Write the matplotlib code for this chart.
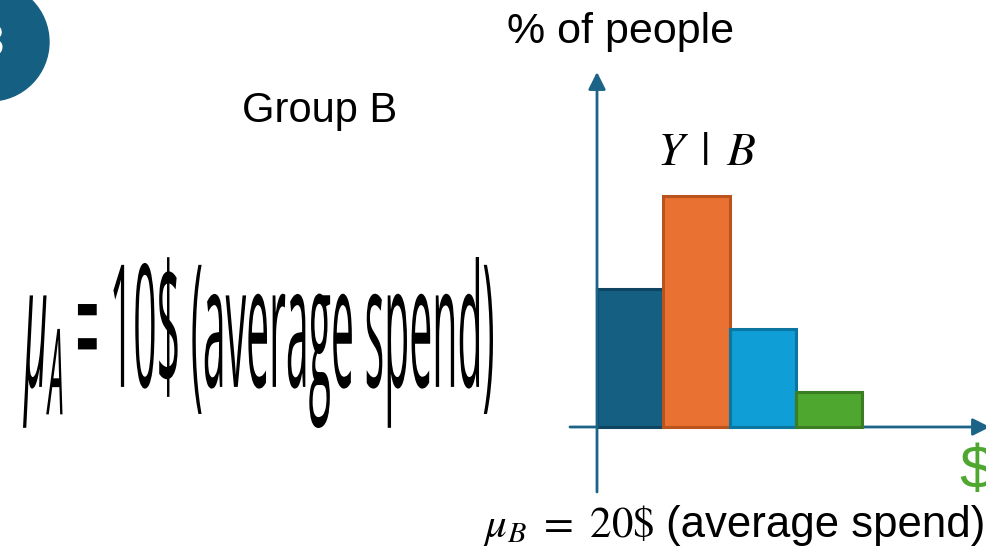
import matplotlib
matplotlib.use("Agg")
import matplotlib.pyplot as plt
from matplotlib.patches import Circle
from matplotlib.patheffects import AbstractPathEffect
from matplotlib.transforms import Affine2D

# spend distribution of group B (share of people per spend bin)
spend_bins = ["0-10$", "10-20$", "20-30$", "30-40$"]
pct_people = [27.5, 46.0, 19.5, 7.0]
bar_colors = ["#156082", "#e97132", "#0f9ed5", "#4ea72e"]
edge_colors = ["#0e4560", "#b9541f", "#0b76a2", "#3a7d22"]

mean_a = 10
mean_b = 20

W, H = 986, 551
AXIS = "#1b6487"
SANS = ["Liberation Sans", "DejaVu Sans"]

plt.rcParams["mathtext.it"] = "Open Sans:italic"
plt.rcParams["mathtext.rm"] = "Open Sans"


class FitBox(AbstractPathEffect):
    """Squeeze a text's outline into a given pixel box (tall, condensed look)."""

    def __init__(self, box):
        super().__init__()
        self.box = box

    def draw_path(self, renderer, gc, tpath, affine, rgbFace=None):
        ext = affine.transform_path(tpath).get_extents()
        x0, y0, x1, y1 = self.box
        fit = (Affine2D().translate(-ext.x0, -ext.y0)
               .scale((x1 - x0) / ext.width, (y1 - y0) / ext.height)
               .translate(x0, y0))
        renderer.draw_path(gc, tpath, affine + fit, rgbFace)


def fxy(x, y):
    return x / W, 1 - y / H


fig = plt.figure(figsize=(W / 100, H / 100), dpi=100)

bg = fig.add_axes([0, 0, 1, 1])
bg.set_xlim(0, W)
bg.set_ylim(H, 0)
bg.axis("off")
bg.add_patch(Circle((-10, 42), 59, color="#156082", clip_on=False))
bg.text(4, 44, "3", ha="right", va="center", color="white", fontsize=34,
        fontweight="bold", family=SANS)

# chart axes: baseline at y=427 px, y axis at x=597 px
ypx, xpx = 5.02, 66.25
ax = fig.add_axes([570 / W, 0, 416 / W, (H - 60) / H])
ax.set_xlim((570 - 597) / xpx, (986 - 597) / xpx)
ax.set_ylim(-(H - 427) / ypx, (427 - 60) / ypx)
ax.axis("off")

ax.bar(range(len(pct_people)), pct_people, width=1, align="edge",
       color=bar_colors, edgecolor=edge_colors, linewidth=2.2, zorder=3)

arrow = dict(arrowstyle="-|>", color=AXIS, lw=2, mutation_scale=26,
             shrinkA=0, shrinkB=0)
ax.annotate("", xy=(0, (427 - 72) / ypx), xytext=(0, -(492 - 427) / ypx),
            arrowprops=arrow, annotation_clip=False)
ax.annotate("", xy=((990 - 597) / xpx, 0), xytext=((570 - 597) / xpx, 0),
            arrowprops=arrow, annotation_clip=False, zorder=1)

fig.text(*fxy(621, 43), "% of people", ha="center", va="baseline",
         fontsize=31, family=SANS)
fig.text(*fxy(242, 122), "Group B", ha="left", va="baseline",
         fontsize=30, family=SANS)
fig.text(*fxy(707, 165), r"$Y\ \,|\ \,B$", ha="center", va="baseline",
         fontsize=34, math_fontfamily="stix")
fig.text(*fxy(959, 488), r"\$", ha="left", va="baseline", fontsize=44,
         color="#4ea72e", family=SANS)
fig.text(*fxy(483, 537), rf"$\mu_B\ =\ {mean_b}\$$",
         ha="left", va="baseline", fontsize=31, math_fontfamily="stix")
fig.text(*fxy(666, 537), "(average spend)", ha="left", va="baseline",
         fontsize=31.5, family=SANS)

big = fig.text(*fxy(258, 342), rf"$\mu_A$ = {mean_a}\$ (average spend)",
               ha="center", va="center", fontsize=40,
               family=["Open Sans", "DejaVu Sans"], math_fontfamily="custom")
big.set_path_effects([FitBox((23, H - 428, 493, H - 257))])

fig.savefig("out.png", dpi=100)
